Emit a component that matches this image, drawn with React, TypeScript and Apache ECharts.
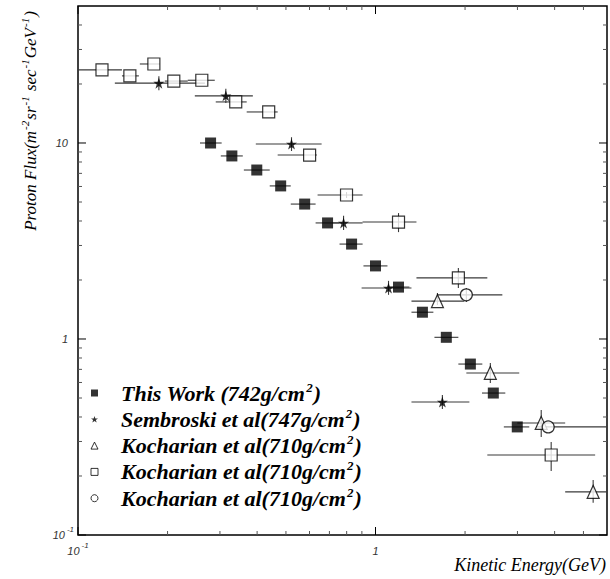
import React, { useEffect, useRef } from 'react';
import * as echarts from 'echarts';

// ---------- data ----------
// This Work (742 g/cm2)
const thisWorkE = [0.279, 0.329, 0.399, 0.48, 0.578, 0.69, 0.831, 1.0, 1.195, 1.438, 1.73, 2.084, 2.489, 2.996];
const thisWorkFlux = [10.0, 8.59, 7.28, 6.04, 4.88, 3.91, 3.05, 2.36, 1.84, 1.37, 1.02, 0.745, 0.53, 0.356];
const thisWorkELo = [0.257, 0.302, 0.361, 0.441, 0.519, 0.629, 0.757, 0.911, 1.097, 1.321, 1.578, 1.899, 2.28, 2.7];
const thisWorkEHi = [0.304, 0.358, 0.441, 0.519, 0.629, 0.757, 0.905, 1.097, 1.3, 1.565, 1.899, 2.286, 2.731, 3.287];

// Sembroski et al (747 g/cm2)
const sembE = [0.187, 0.314, 0.522, 0.781, 1.106, 1.678];
const sembFlux = [20.2, 17.4, 9.88, 3.91, 1.82, 0.477];
const sembELo = [0.133, 0.247, 0.396, 0.717, 0.898, 1.321];
const sembEHi = [0.267, 0.387, 0.659, 0.905, 1.321, 2.068];
const sembFluxLo = [18.6, 16.0, 9.1, 3.6, 1.68, 0.439];
const sembFluxHi = [21.9, 18.9, 10.7, 4.25, 1.98, 0.518];

// Kocharian et al (triangles)
const kTriE = [1.615, 2.432, 3.606, 5.39];
const kTriFlux = [1.56, 0.671, 0.373, 0.166];
const kTriELo = [1.321, 2.02, 2.996, 4.341];
const kTriEHi = [1.989, 3.042, 4.341, 6.0];
const kTriFluxLo = [1.49, 0.596, 0.316, 0.146];
const kTriFluxHi = [1.717, 0.754, 0.434, 0.191];

// Kocharian et al (open squares)
const kSqE = [0.1204, 0.1494, 0.1799, 0.2099, 0.2607, 0.339, 0.4375, 0.6005, 0.7991, 1.195, 1.899, 3.895];
const kSqFlux = [23.6, 22.0, 25.3, 20.7, 20.9, 16.2, 14.4, 8.68, 5.43, 3.95, 2.05, 0.256];
const kSqELo = [0.1, 0.1405, 0.1614, 0.1958, 0.2338, 0.2904, 0.369, 0.469, 0.6387, 0.9045, 1.373, 2.376];
const kSqEHi = [0.1405, 0.1602, 0.1884, 0.2338, 0.2882, 0.369, 0.469, 0.6349, 0.9045, 1.373, 2.376, 5.474];
const kSqFluxLo = [23.6, 22.0, 25.3, 20.7, 20.9, 16.2, 14.4, 8.68, 5.24, 3.51, 1.82, 0.212];
const kSqFluxHi = [23.6, 22.0, 25.3, 20.7, 20.9, 16.2, 14.4, 8.68, 5.62, 4.39, 2.3, 0.298];

// Kocharian et al (open circles)
const kCirE = [2.02, 3.806];
const kCirFlux = [1.68, 0.356];
const kCirELo = [1.615, 3.47];
const kCirEHi = [2.669, 6.0];
const kCirFluxLo = [1.545, 0.356];
const kCirFluxHi = [1.82, 0.356];

// axes
const X_MIN = 0.1;
const X_MAX = 6;
const Y_MIN = 0.1;
const Y_MAX = 50;
const xMajorTicks = [0.1, 1];
const xMinorTicks = [0.2, 0.3, 0.4, 0.5, 0.6, 0.7, 0.8, 0.9, 2, 3, 4, 5];
const yMajorTicks = [0.1, 1, 10];
const yMinorTicks = [0.2, 0.3, 0.4, 0.5, 0.6, 0.7, 0.8, 0.9, 2, 3, 4, 5, 6, 7, 8, 9, 20, 30, 40];
const tickExponents = [-1, 0, 1];
const tickLabelsX = ['{b|10}{s|-1}', '{b|1}', '{b|10}'];
const tickLabelsY = ['{b|10}{s|-1}', '{bp|1}', '{bp|10}'];

const legendNames = ['tw', 'sb', 'ktri', 'ksq', 'kcir'];
const legendTexts = [
  '{t0|This Work (742g/cm}{s|2}{t|)}',
  '{t0|Sembroski et al(747g/cm}{s|2}{t|)}',
  '{t0|Kocharian et al(710g/cm}{s|2}{t|)}',
  '{t0|Kocharian et al(710g/cm}{s|2}{t|)}',
  '{t0|Kocharian et al(710g/cm}{s|2}{t|)}',
];

const STAR = 'path://M50,0L61.8,35.1L98.5,35.1L68.8,56.9L80.2,91.9L50,70.2L19.8,91.9L31.2,56.9L1.5,35.1L38.2,35.1Z';

function labelFor(v: number, labels: string[]) {
  const e = Math.log10(v);
  for (let i = 0; i < tickExponents.length; i++) {
    if (Math.abs(e - tickExponents[i]) < 1e-6) return labels[i];
  }
  return '';
}

function errData(e: number[], f: number[], elo: number[], ehi: number[], flo?: number[], fhi?: number[]) {
  return e.map((x, i) => [x, f[i], elo[i], ehi[i], flo ? flo[i] : f[i], fhi ? fhi[i] : f[i]]);
}

function errSeries(name: string, data: number[][]) {
  return {
    type: 'custom',
    name,
    z: 1,
    silent: true,
    encode: { x: 0, y: 1 },
    data,
    renderItem: (_p: any, api: any) => {
      const x = api.value(0);
      const y = api.value(1);
      const a = api.coord([api.value(2), y]);
      const b = api.coord([api.value(3), y]);
      const c = api.coord([x, api.value(4)]);
      const d = api.coord([x, api.value(5)]);
      const st = { stroke: '#3a3a3a', lineWidth: 1.1 };
      return {
        type: 'group',
        children: [
          { type: 'line', shape: { x1: a[0], y1: a[1], x2: b[0], y2: b[1] }, style: st },
          { type: 'line', shape: { x1: c[0], y1: c[1], x2: d[0], y2: d[1] }, style: st },
        ],
      };
    },
  };
}

const tickData = [
  ...xMajorTicks.map((v) => [v, 1, 0, 1]),
  ...xMinorTicks.map((v) => [v, 1, 0, 0]),
  ...yMajorTicks.map((v) => [1, v, 1, 1]),
  ...yMinorTicks.map((v) => [1, v, 1, 0]),
];

const serifIt = { fontFamily: 'Liberation Serif', fontStyle: 'italic' as const };

export default function App() {
  const ref = useRef<HTMLDivElement>(null);
  useEffect(() => {
    if (!ref.current) return;
    const chart = echarts.init(ref.current, undefined, { renderer: 'svg' });
    const sansLabel = {
      b: { fontFamily: 'Liberation Sans', fontStyle: 'italic', fontSize: 11, color: '#333', lineHeight: 22 },
      bp: { fontFamily: 'Liberation Sans', fontStyle: 'italic', fontSize: 11, color: '#333', lineHeight: 22, padding: [0, 6, 0, 0] },
      s: { fontFamily: 'Liberation Sans', fontStyle: 'italic', fontSize: 8, color: '#333', lineHeight: 22, padding: [0, 0, 12, 2] },
    };
    const option: any = {
      animation: false,
      backgroundColor: '#fff',
      grid: {
        left: 78, right: 3, top: 6, bottom: 44,
        show: true, borderColor: '#000', borderWidth: 1.5, backgroundColor: 'transparent',
        outerBoundsMode: 'none',
      },
      xAxis: {
        type: 'log', logBase: 10, min: X_MIN, max: X_MAX,
        axisLine: { show: false }, axisTick: { show: false }, splitLine: { show: false }, minorTick: { show: false },
        axisLabel: {
          margin: 5,
          showMaxLabel: false,
          formatter: (v: number) => labelFor(v, tickLabelsX),
          rich: sansLabel,
        },
      },
      yAxis: {
        type: 'log', logBase: 10, min: Y_MIN, max: Y_MAX,
        axisLine: { show: false }, axisTick: { show: false }, splitLine: { show: false }, minorTick: { show: false },
        axisLabel: {
          margin: 4,
          showMaxLabel: false,
          formatter: (v: number) => labelFor(v, tickLabelsY),
          rich: sansLabel,
        },
      },
      legend: {
        orient: 'vertical',
        left: 90.5,
        top: 380.5,
        padding: 0,
        itemGap: 1.3,
        itemWidth: 7,
        itemHeight: 7,
        selectedMode: false,
        data: [
          { name: 'tw', icon: 'rect' },
          { name: 'sb', icon: STAR },
          { name: 'ktri', icon: 'triangle', itemStyle: { borderWidth: 1 } },
          { name: 'ksq', icon: 'rect', itemStyle: { borderWidth: 1 } },
          { name: 'kcir', icon: 'circle', itemStyle: { borderWidth: 1 } },
        ],
        formatter: (name: string) => legendTexts[legendNames.indexOf(name)],
        textStyle: {
          color: '#000',
          rich: {
            t0: { ...serifIt, fontWeight: 'bold', fontSize: 22, lineHeight: 22, color: '#000', padding: [0, 0, 0, 18] },
            t: { ...serifIt, fontWeight: 'bold', fontSize: 22, lineHeight: 22, color: '#000' },
            s: { ...serifIt, fontWeight: 'bold', fontSize: 13, lineHeight: 22, color: '#000', padding: [0, 1, 12, 1] },
          },
        },
      },
      graphic: [
        {
          type: 'text',
          x: 30,
          y: 121,
          rotation: Math.PI / 2,
          style: {
            text: 'Proton Flux(m{s|-2}sr{s|-1} sec{s|-1}GeV{s|-1})',
            ...serifIt,
            fontSize: 17,
            fill: '#000',
            align: 'center',
            verticalAlign: 'middle',
            rich: {
              s: { ...serifIt, fontSize: 11, fill: '#000', padding: [0, 1, 11, 1] } as any,
            },
          },
        },
        {
          type: 'text',
          x: 606,
          y: 565,
          style: {
            text: 'Kinetic Energy(GeV)',
            ...serifIt,
            fontSize: 18,
            fill: '#000',
            align: 'right',
            verticalAlign: 'middle',
          },
        },
      ],
      series: [
        {
          type: 'custom',
          name: 'ticks',
          z: 5,
          silent: true,
          encode: { x: 0, y: 1 },
          data: tickData,
          renderItem: (_p: any, api: any) => {
            const axis = api.value(2);
            const major = api.value(3) === 1;
            const len = major ? 8 : 4;
            const st = { stroke: major ? '#000' : '#555', lineWidth: 1 };
            if (axis === 0) {
              const v = api.value(0);
              const b = api.coord([v, Y_MIN]);
              const t = api.coord([v, Y_MAX]);
              return {
                type: 'group',
                children: [
                  { type: 'line', shape: { x1: b[0], y1: b[1], x2: b[0], y2: b[1] - len }, style: st },
                  { type: 'line', shape: { x1: t[0], y1: t[1], x2: t[0], y2: t[1] + len }, style: st },
                ],
              };
            }
            const v = api.value(1);
            const l = api.coord([X_MIN, v]);
            const r = api.coord([X_MAX, v]);
            return {
              type: 'group',
              children: [
                { type: 'line', shape: { x1: l[0], y1: l[1], x2: l[0] + len, y2: l[1] }, style: st },
                { type: 'line', shape: { x1: r[0], y1: r[1], x2: r[0] - len, y2: r[1] }, style: st },
              ],
            };
          },
        },
        errSeries('tw-err', errData(thisWorkE, thisWorkFlux, thisWorkELo, thisWorkEHi)),
        errSeries('sb-err', errData(sembE, sembFlux, sembELo, sembEHi, sembFluxLo, sembFluxHi)),
        errSeries('ktri-err', errData(kTriE, kTriFlux, kTriELo, kTriEHi, kTriFluxLo, kTriFluxHi)),
        errSeries('ksq-err', errData(kSqE, kSqFlux, kSqELo, kSqEHi, kSqFluxLo, kSqFluxHi)),
        errSeries('kcir-err', errData(kCirE, kCirFlux, kCirELo, kCirEHi, kCirFluxLo, kCirFluxHi)),
        {
          type: 'scatter', name: 'tw', z: 3, symbol: 'rect', symbolSize: 11,
          itemStyle: { color: '#000' },
          data: thisWorkE.map((x, i) => [x, thisWorkFlux[i]]),
        },
        {
          type: 'scatter', name: 'sb', z: 4, symbol: STAR, symbolSize: 11,
          itemStyle: { color: '#000' },
          data: sembE.map((x, i) => [x, sembFlux[i]]),
        },
        {
          type: 'scatter', name: 'ktri', z: 3, symbol: 'triangle', symbolSize: [12, 13],
          itemStyle: { color: '#fff', borderColor: '#000', borderWidth: 1.2 },
          data: kTriE.map((x, i) => [x, kTriFlux[i]]),
        },
        {
          type: 'scatter', name: 'ksq', z: 3, symbol: 'rect', symbolSize: 12,
          itemStyle: { color: '#fff', borderColor: '#000', borderWidth: 1.2 },
          data: kSqE.map((x, i) => [x, kSqFlux[i]]),
        },
        {
          type: 'scatter', name: 'kcir', z: 3, symbol: 'circle', symbolSize: 12,
          itemStyle: { color: '#fff', borderColor: '#000', borderWidth: 1.2 },
          data: kCirE.map((x, i) => [x, kCirFlux[i]]),
        },
      ],
    };
    chart.setOption(option);
    return () => chart.dispose();
  }, []);
  return <div ref={ref} style={{ position: 'fixed', left: 0, top: 0, width: 610, height: 579 }} />;
}
